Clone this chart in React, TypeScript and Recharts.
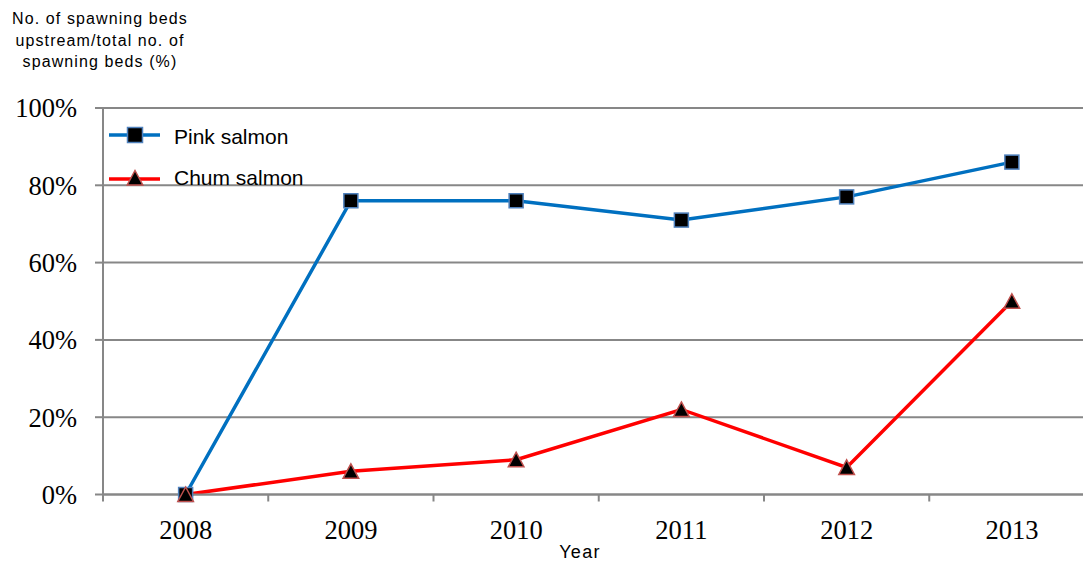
import React from "react";
import { LineChart, Line, XAxis, YAxis, CartesianGrid } from "recharts";

const years = [2008, 2009, 2010, 2011, 2012, 2013];
const pinkSalmon = [0, 76, 76, 71, 77, 86];
const chumSalmon = [0, 6, 9, 22, 7, 50];
const yTicks = [0, 20, 40, 60, 80, 100];
const seriesNames = ["Pink salmon", "Chum salmon"];
const yTitleLines = ["No. of spawning beds", "upstream/total no. of", "spawning beds (%)"];
const xTitle = "Year";

const data = years.map((y, i) => ({ year: y, pink: pinkSalmon[i], chum: chumSalmon[i] }));
const xTicks: number[] = [];
years.forEach((y) => {
  xTicks.push(y - 0.5, y);
});
xTicks.push(years[years.length - 1] + 0.5);

const GRAY = "#878787";
const BLUE = "#0070c0";
const RED = "#ff0000";
const SQ_STROKE = "#4f81bd";
const TRI_STROKE = "#c0504d";
const SERIF = "'Liberation Serif', 'Times New Roman', serif";
const SANS = "'Liberation Sans', Arial, sans-serif";
const X_LABEL_GAP = 25.5;

const Square = (props: any) => {
  const { cx, cy, size } = props;
  const s = size || 14;
  if (cx == null || cy == null) return null;
  return (
    <rect x={cx - s / 2} y={cy - s / 2} width={s} height={s} fill="#000" stroke={SQ_STROKE} strokeWidth={1.5} />
  );
};

const Triangle = (props: any) => {
  const { cx, cy } = props;
  if (cx == null || cy == null) return null;
  const pts = `${cx},${cy - 7.5} ${cx + 7.8},${cy + 7} ${cx - 7.8},${cy + 7}`;
  return <polygon points={pts} fill="#000" stroke={TRI_STROKE} strokeWidth={1.5} strokeLinejoin="miter" />;
};

const XTick = (props: any) => {
  const { x, y, payload } = props;
  const v = payload.value;
  if (Number.isInteger(v)) {
    return (
      <text x={x} y={y} dy="0.71em" textAnchor="middle" fill="#000" fontSize={26.5} fontFamily={SERIF}>
        {v}
      </text>
    );
  }
  const axisY = y - X_LABEL_GAP;
  return <line x1={x} x2={x} y1={axisY} y2={axisY + 7} stroke={GRAY} strokeWidth={2} />;
};

export default function App() {
  return (
    <div style={{ position: "absolute", left: 0, top: 0, width: 1083, height: 564, overflow: "hidden", background: "#fff" }}>
      <LineChart width={1100} height={564} data={data} margin={{ top: 108, right: 5.5, left: 0, bottom: 0 }}>
        <CartesianGrid vertical={false} stroke={GRAY} strokeWidth={2} />
        <XAxis
          dataKey="year"
          type="number"
          domain={[years[0] - 0.5, years[years.length - 1] + 0.5]}
          ticks={xTicks}
          interval={0}
          tickLine={false}
          tickSize={0}
          tickMargin={X_LABEL_GAP}
          axisLine={{ stroke: GRAY, strokeWidth: 2 }}
          tick={<XTick />}
          height={69.5}
          allowDataOverflow
        />
        <YAxis
          type="number"
          domain={[0, 100]}
          ticks={yTicks}
          interval={0}
          width={103}
          tickSize={8}
          tickMargin={18}
          tickFormatter={(v: number) => `${v}%`}
          axisLine={{ stroke: GRAY, strokeWidth: 2 }}
          tickLine={{ stroke: GRAY, strokeWidth: 2 }}
          tick={{ fill: "#000", fontSize: 26.5, fontFamily: SERIF }}
        />
        <Line
          type="linear"
          dataKey="pink"
          name={seriesNames[0]}
          stroke={BLUE}
          strokeWidth={3.5}
          dot={(p: any) => <Square {...p} key={`sq-${p.index}`} />}
          activeDot={false}
          isAnimationActive={false}
        />
        <Line
          type="linear"
          dataKey="chum"
          name={seriesNames[1]}
          stroke={RED}
          strokeWidth={3.5}
          dot={(p: any) => <Triangle {...p} key={`tr-${p.index}`} />}
          activeDot={false}
          isAnimationActive={false}
        />
      </LineChart>
      <svg width={1083} height={564} style={{ position: "absolute", left: 0, top: 0, pointerEvents: "none" }}>
        {yTitleLines.map((t, i) => (
          <text key={t} x={100} y={24 + i * 21.5} textAnchor="middle" fontFamily={SANS} fontSize={16} letterSpacing={1.1} fill="#000">
            {t}
          </text>
        ))}
        <text x={580} y={558} textAnchor="middle" fontFamily={SANS} fontSize={18} letterSpacing={1.3} fill="#000">
          {xTitle}
        </text>
        <line x1={109} x2={160} y1={135} y2={135} stroke={BLUE} strokeWidth={3.5} />
        <Square cx={135} cy={135} size={15} />
        <text x={174} y={143.5} fontFamily={SANS} fontSize={21} fill="#000">
          {seriesNames[0]}
        </text>
        <line x1={109} x2={160} y1={179} y2={179} stroke={RED} strokeWidth={3.5} />
        <Triangle cx={135} cy={178} />
        <text x={174} y={185} fontFamily={SANS} fontSize={21} fill="#000">
          {seriesNames[1]}
        </text>
      </svg>
    </div>
  );
}
